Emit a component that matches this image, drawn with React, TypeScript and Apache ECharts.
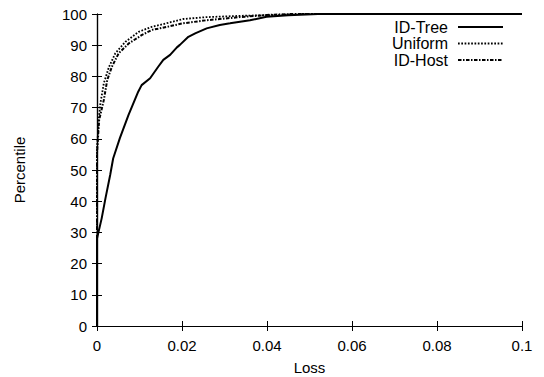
import React, { useEffect, useRef } from "react";
import * as echarts from "echarts";

const seriesNames = ["ID-Tree", "Uniform", "ID-Host"];

const idTree: [number, number][] = [
  [0, 0], [0, 28], [0.0011, 34.5], [0.002, 41], [0.0031, 48.4], [0.0038, 53.7],
  [0.0054, 60.3], [0.0074, 67.6], [0.0086, 71.5], [0.0097, 75.1], [0.0105, 77.2],
  [0.0125, 79.4], [0.0144, 83.1], [0.0156, 85.3], [0.0172, 86.9], [0.0188, 89.3],
  [0.0195, 90.1], [0.0215, 92.7], [0.0231, 93.8], [0.0258, 95.4], [0.0289, 96.5],
  [0.0313, 97], [0.036, 98], [0.0399, 99.1], [0.045, 99.6], [0.052, 100], [0.1, 100],
];

const uniform: [number, number][] = [
  [0, 0], [0, 56.4], [0.0004, 66], [0.0008, 71.4], [0.0016, 77.8], [0.0028, 83],
  [0.0043, 87.4], [0.0067, 91.1], [0.0098, 94.3], [0.0129, 95.9], [0.0148, 96.5],
  [0.0203, 98.4], [0.0258, 99], [0.0336, 99.4], [0.042, 99.7], [0.048, 100], [0.1, 100],
];

const idHost: [number, number][] = [
  [0, 0], [0, 55.4], [0.0005, 66], [0.0016, 72.4], [0.0024, 78.8], [0.0035, 83.1],
  [0.0051, 87.4], [0.0075, 90.6], [0.0106, 93.3], [0.0129, 94.9], [0.0148, 95.4],
  [0.0202, 97], [0.0258, 98], [0.0336, 99], [0.04, 99.7], [0.046, 100], [0.1, 100],
];

const lineWidths = [2, 1.8, 2];
const lineTypes: any[] = ["solid", [1.7, 1.6], [3.5, 1.5, 1.5, 1.5]];

const FONT = "Liberation Sans, Arial, sans-serif";

export default function App() {
  const ref = useRef<HTMLDivElement>(null);
  useEffect(() => {
    if (!ref.current) return;
    const chart = echarts.init(ref.current, undefined, { renderer: "svg" });
    const datasets = [idTree, uniform, idHost];
    const axisCommon = {
      axisLine: { show: true, lineStyle: { color: "#000", width: 1.2 } },
      axisTick: { show: true, inside: true, length: 5, lineStyle: { color: "#000", width: 1 } },
      splitLine: { show: false },
    };
    const legendRows = [27, 43.5, 60];
    const graphic: any[] = [];
    seriesNames.forEach((n, i) => {
      graphic.push({
        type: "text",
        x: 448,
        y: legendRows[i],
        style: { text: n, font: `16px ${FONT}`, fill: "#000", textAlign: "right", textVerticalAlign: "middle" },
        silent: true,
      });
      graphic.push({
        type: "line",
        shape: { x1: 458, y1: legendRows[i], x2: 503, y2: legendRows[i] },
        style: {
          stroke: "#000",
          lineWidth: lineWidths[i],
          lineDash: Array.isArray(lineTypes[i]) ? lineTypes[i] : null,
        },
        silent: true,
      });
    });
    chart.setOption({
      animation: false,
      backgroundColor: "#fff",
      grid: { left: 97, right: 22, top: 14, bottom: 51, containLabel: false, outerBoundsMode: "none" },
      xAxis: [
        {
          type: "value",
          min: 0,
          max: 0.1,
          interval: 0.02,
          position: "bottom",
          name: "Loss",
          nameLocation: "middle",
          nameGap: 34,
          nameTextStyle: { fontFamily: FONT, fontSize: 15, color: "#000" },
          axisLabel: {
            fontFamily: FONT,
            fontSize: 15,
            color: "#000",
            margin: 12,
            formatter: (v: number) => String(+v.toFixed(2)),
          },
          ...axisCommon,
        },
        {
          type: "value",
          min: 0,
          max: 0.1,
          interval: 0.02,
          position: "top",
          axisLabel: { show: false },
          ...axisCommon,
        },
      ],
      yAxis: [
        {
          type: "value",
          min: 0,
          max: 100,
          interval: 10,
          position: "left",
          name: "Percentile",
          nameLocation: "middle",
          nameGap: 70,
          nameTextStyle: { fontFamily: FONT, fontSize: 15, color: "#000" },
          axisLabel: { fontFamily: FONT, fontSize: 15, color: "#000", margin: 10 },
          ...axisCommon,
        },
        {
          type: "value",
          min: 0,
          max: 100,
          interval: 10,
          position: "right",
          axisLabel: { show: false },
          ...axisCommon,
        },
      ],
      series: seriesNames.map((n, i) => ({
        name: n,
        type: "line",
        xAxisIndex: 0,
        yAxisIndex: 0,
        data: datasets[i],
        symbol: "none",
        lineStyle: { color: "#000", width: lineWidths[i], type: lineTypes[i] },
        z: 3 - i,
      })),
      graphic,
    });
    return () => chart.dispose();
  }, []);
  return (
    <div
      ref={ref}
      style={{ position: "fixed", left: 0, top: 0, width: 544, height: 377, background: "#fff" }}
    />
  );
}
